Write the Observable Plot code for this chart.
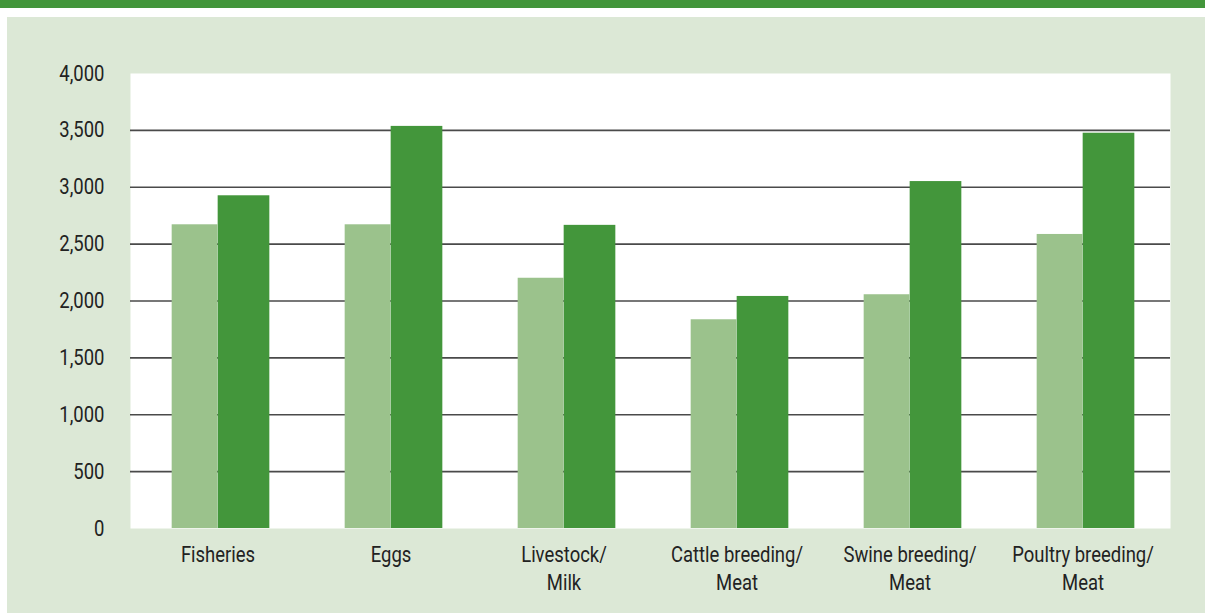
<!DOCTYPE html>
<html>
<head>
<meta charset="utf-8">
<script src="https://cdn.jsdelivr.net/npm/d3@7"></script>
<script src="https://cdn.jsdelivr.net/npm/@observablehq/plot@0.6"></script>
<style>
  html, body { margin: 0; padding: 0; background: #ffffff; width: 1205px; height: 613px; overflow: hidden; }
  #topbar { position: absolute; left: 0; top: 0; width: 1205px; height: 8px; background: #43963b; }
  #panel { position: absolute; left: 7px; top: 17px; width: 1198px; height: 596px; background: #dce8d6; }
  #panel svg { display: block; }
</style>
</head>
<body>
<div id="topbar"></div>
<div id="panel"></div>
<script>
// Categories (x axis tick labels)
const categories = [
  "Fisheries",
  "Eggs",
  "Livestock/\nMilk",
  "Cattle breeding/\nMeat",
  "Swine breeding/\nMeat",
  "Poultry breeding/\nMeat"
];
// Two series (light green, dark green)
const seriesNames = ["Series 1", "Series 2"];
const series1Values = [2670, 2670, 2200, 1835, 2055, 2585];
const series2Values = [2925, 3535, 2665, 2040, 3050, 3475];
// Y tick values
const yTicks = [0, 500, 1000, 1500, 2000, 2500, 3000, 3500, 4000];
const gridTicks = [500, 1000, 1500, 2000, 2500, 3000, 3500];

const rows1 = categories.map((c, i) => ({category: c, series: seriesNames[0], value: series1Values[i]}));
const rows2 = categories.map((c, i) => ({category: c, series: seriesNames[1], value: series2Values[i]}));

const W = 1198, H = 596;
const half = (W - 123 - 35) / categories.length / 2;

const chart = Plot.plot({
  width: W,
  height: H,
  marginLeft: 123,
  marginRight: 35,
  marginTop: 56,
  marginBottom: 85,
  style: {
    fontFamily: "Roboto, 'Liberation Sans', sans-serif",
    fontSize: "22px",
    background: "transparent",
    color: "#222"
  },
  x: { domain: categories, padding: 0, label: null },
  y: { domain: [0, 4000], label: null },
  marks: [
    Plot.frame({ fill: "white", stroke: "none" }),
    Plot.ruleY(gridTicks, { stroke: "#4a4a4a", strokeWidth: 1.6 }),
    Plot.barY(rows1, { x: "category", y: "value", fill: "#9bc28c", insetLeft: half - 46, insetRight: half }),
    Plot.barY(rows2, { x: "category", y: "value", fill: "#43963b", insetLeft: half, insetRight: half - 52 }),
    Plot.axisY({ ticks: yTicks, tickFormat: d3.format(","), tickSize: 0, tickPadding: 26, label: null, fontSize: 22, fill: "#222" }),
    Plot.axisX({ tickSize: 0, tickPadding: 14, label: null, fontSize: 22, lineHeight: 1.25, fill: "#222" })
  ]
});
// Emulate the condensed typeface of the original by narrowing tick labels horizontally
chart.querySelectorAll("g[aria-label$='tick label'] text").forEach((t) => {
  const tr = t.getAttribute("transform");
  if (tr) t.setAttribute("transform", tr + " scale(0.84,1)");
});
document.getElementById("panel").appendChild(chart);
</script>
</body>
</html>
